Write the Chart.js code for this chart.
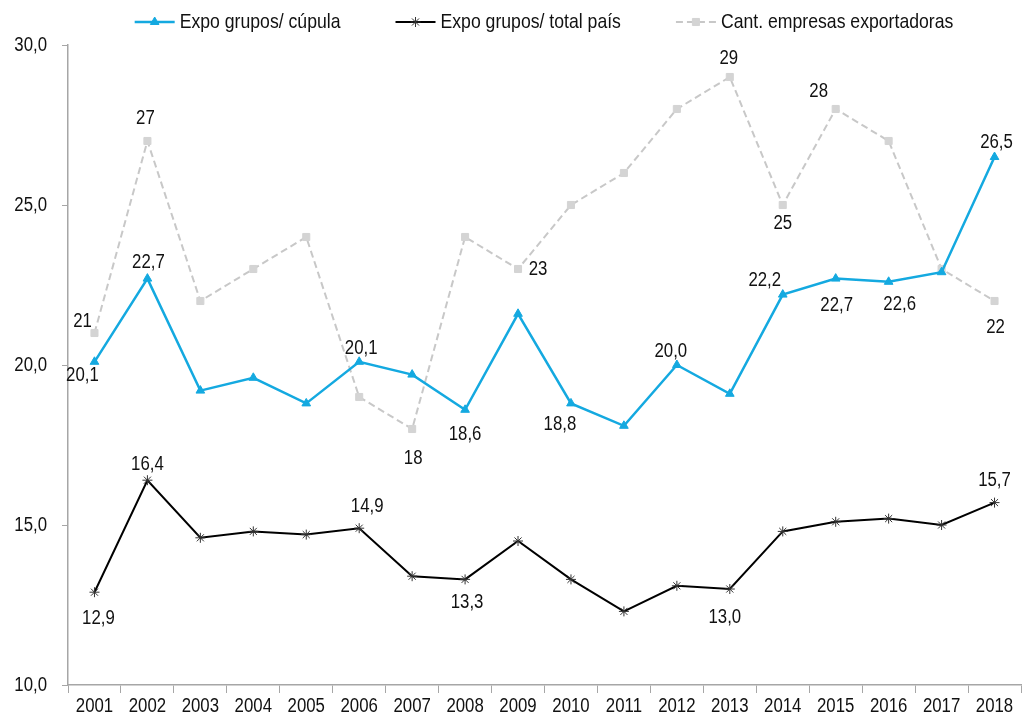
<!DOCTYPE html>
<html>
<head>
<meta charset="utf-8">
<script src="https://cdn.jsdelivr.net/npm/chart.js@4.4.0/dist/chart.umd.min.js"></script>
<style>
  html, body { margin: 0; padding: 0; background: #fff; overflow: hidden; }
  #wrap { width: 1027px; height: 720px; }
</style>
</head>
<body>
<div id="wrap"><canvas id="expoChart" width="1027" height="720"></canvas></div>
<script>
const years = ['2001','2002','2003','2004','2005','2006','2007','2008','2009','2010','2011','2012','2013','2014','2015','2016','2017','2018'];
const cupula = [20.1, 22.7, 19.2, 19.6, 18.8, 20.1, 19.7, 18.6, 21.6, 18.8, 18.1, 20.0, 19.1, 22.2, 22.7, 22.6, 22.9, 26.5];
const totalPais = [12.9, 16.4, 14.6, 14.8, 14.7, 14.9, 13.4, 13.3, 14.5, 13.3, 12.3, 13.1, 13.0, 14.8, 15.1, 15.2, 15.0, 15.7];
const empresas = [21, 27, 22, 23, 24, 19, 18, 24, 23, 25, 26, 28, 29, 25, 28, 27, 23, 22];
const seriesNames = ['Expo grupos/ cúpula', 'Expo grupos/ total país', 'Cant. empresas exportadoras'];

// which points carry a value label
const cupulaLabeled = [0, 1, 5, 7, 9, 11, 13, 14, 15, 17];
const paisLabeled = [0, 1, 5, 7, 12, 17];
const empresasLabeled = [0, 1, 6, 8, 12, 13, 14, 17];

// label offsets (px) from the point, same order as above
const cupulaOffsets = [[-12, 14], [1, -16], [2, -13], [0, 25], [-11, 21], [-6, -14], [-18, -14], [1, 27], [11, 23], [2, -15]];
const paisOffsets = [[4, 26], [0, -16], [8, -22], [2, 23], [-5, 28], [0, -22]];
const empresasOffsets = [[-12, -12], [-2, -23], [1, 29], [20, 0], [-1, -19], [0, 18], [-17, -18], [1, 26]];

const FONT = '"Liberation Sans", Arial, sans-serif';
const SQUEEZE = 0.84; // the original uses a narrow face
const BLUE = '#14a9e0';
const GREY = '#c8c8c8';

const fmt1 = v => v.toFixed(1).replace('.', ',');

function narrowText(ctx, text, x, y, align) {
    ctx.save();
    ctx.translate(x, y);
    ctx.scale(SQUEEZE, 1);
    ctx.textAlign = align || 'center';
    ctx.fillText(text, 0, 0);
    ctx.restore();
}

const valueLabels = {
    id: 'valueLabels',
    afterDatasetsDraw(chart) {
        const ctx = chart.ctx;
        const sets = [
            { ds: 0, idx: cupulaLabeled, off: cupulaOffsets, f: fmt1 },
            { ds: 1, idx: paisLabeled, off: paisOffsets, f: fmt1 },
            { ds: 2, idx: empresasLabeled, off: empresasOffsets, f: v => String(v) }
        ];
        ctx.save();
        ctx.font = '20px ' + FONT;
        ctx.fillStyle = '#111';
        ctx.textBaseline = 'middle';
        sets.forEach(s => {
            const meta = chart.getDatasetMeta(s.ds);
            const data = chart.data.datasets[s.ds].data;
            s.idx.forEach((i, k) => {
                const el = meta.data[i];
                narrowText(ctx, s.f(data[i]), el.x + s.off[k][0], el.y + s.off[k][1]);
            });
        });
        ctx.restore();
    }
};

// tick texts drawn narrow at the library's own tick positions
const narrowTicks = {
    id: 'narrowTicks',
    afterDraw(chart) {
        const ctx = chart.ctx;
        const xs = chart.scales.x, ys = chart.scales.y;
        ctx.save();
        ctx.font = '20px ' + FONT;
        ctx.fillStyle = '#111';
        ctx.textBaseline = 'middle';
        xs.ticks.forEach((t, i) => {
            narrowText(ctx, xs.getLabelForValue(t.value), xs.getPixelForTick(i), 706, 'center');
        });
        ys.ticks.forEach((t, i) => {
            narrowText(ctx, fmt1(t.value), 47, ys.getPixelForTick(i), 'right');
        });
        ctx.restore();
    }
};

// legend with line + marker, like the spreadsheet one
const lineLegend = {
    id: 'lineLegend',
    afterDraw(chart) {
        const ctx = chart.ctx;
        ctx.save();
        ctx.font = '21px ' + FONT;
        ctx.textBaseline = 'middle';
        const lineW = 40, gap = 5, between = 55, y = 22;
        const widths = chart.data.datasets.map(d => ctx.measureText(d.label).width * SQUEEZE);
        const total = widths.reduce((a, b) => a + b, 0) + 3 * (lineW + gap) + 2 * between;
        let x = 544 - total / 2;
        chart.data.datasets.forEach((d, i) => {
            ctx.strokeStyle = d.borderColor;
            ctx.lineWidth = d.borderWidth;
            ctx.setLineDash(d.borderDash || []);
            ctx.beginPath();
            ctx.moveTo(x, y);
            ctx.lineTo(x + lineW, y);
            ctx.stroke();
            ctx.setLineDash([]);
            ctx.fillStyle = d.pointBackgroundColor;
            ctx.strokeStyle = d.pointBorderColor;
            ctx.lineWidth = 1;
            Chart.helpers.drawPoint(ctx, { pointStyle: d.pointStyle, radius: d.pointRadius, rotation: 0, borderWidth: 1 }, x + lineW / 2, y);
            ctx.fillStyle = '#111';
            narrowText(ctx, d.label, x + lineW + gap, y, 'left');
            x += lineW + gap + widths[i] + between;
        });
        ctx.restore();
    }
};

const ctx = document.getElementById('expoChart').getContext('2d');
new Chart(ctx, {
    type: 'line',
    data: {
        labels: years,
        datasets: [
            {
                label: seriesNames[0],
                data: cupula,
                borderColor: BLUE,
                borderWidth: 2.5,
                pointStyle: 'triangle',
                pointRadius: 5,
                pointBackgroundColor: BLUE,
                pointBorderColor: BLUE,
                pointBorderWidth: 1,
                tension: 0,
                order: 1
            },
            {
                label: seriesNames[1],
                data: totalPais,
                borderColor: '#000',
                borderWidth: 2,
                pointStyle: 'star',
                pointRadius: 5,
                pointBackgroundColor: '#333',
                pointBorderColor: '#333',
                pointBorderWidth: 1,
                tension: 0,
                order: 2
            },
            {
                label: seriesNames[2],
                data: empresas,
                borderColor: GREY,
                borderWidth: 2,
                borderDash: [7, 4],
                pointStyle: 'rect',
                pointRadius: 5,
                pointBackgroundColor: '#d4d4d4',
                pointBorderColor: '#d4d4d4',
                pointBorderWidth: 1,
                tension: 0,
                order: 3
            }
        ]
    },
    options: {
        responsive: false,
        animation: false,
        layout: { padding: { left: 0, right: 0, top: 45, bottom: 0 } },
        scales: {
            x: {
                offset: true,
                border: { color: '#a6a6a6', width: 1.5 },
                grid: { offset: true, drawOnChartArea: false, drawTicks: true, tickLength: 8, color: '#a6a6a6' },
                ticks: { color: 'rgba(0,0,0,0)', font: { family: FONT, size: 20 }, padding: 2, maxRotation: 0, autoSkip: false },
                afterFit(scale) { scale.height = 35; }
            },
            y: {
                min: 10,
                max: 30,
                border: { color: '#a6a6a6', width: 1.5 },
                grid: { drawOnChartArea: false, drawTicks: true, tickLength: 6, color: '#a6a6a6' },
                ticks: {
                    stepSize: 5,
                    color: 'rgba(0,0,0,0)',
                    font: { family: FONT, size: 20 },
                    padding: 15,
                    callback: v => fmt1(v)
                },
                afterFit(scale) { scale.width = 68; }
            }
        },
        plugins: {
            legend: { display: false },
            tooltip: { enabled: false }
        }
    },
    plugins: [valueLabels, narrowTicks, lineLegend]
});
</script>
</body>
</html>
